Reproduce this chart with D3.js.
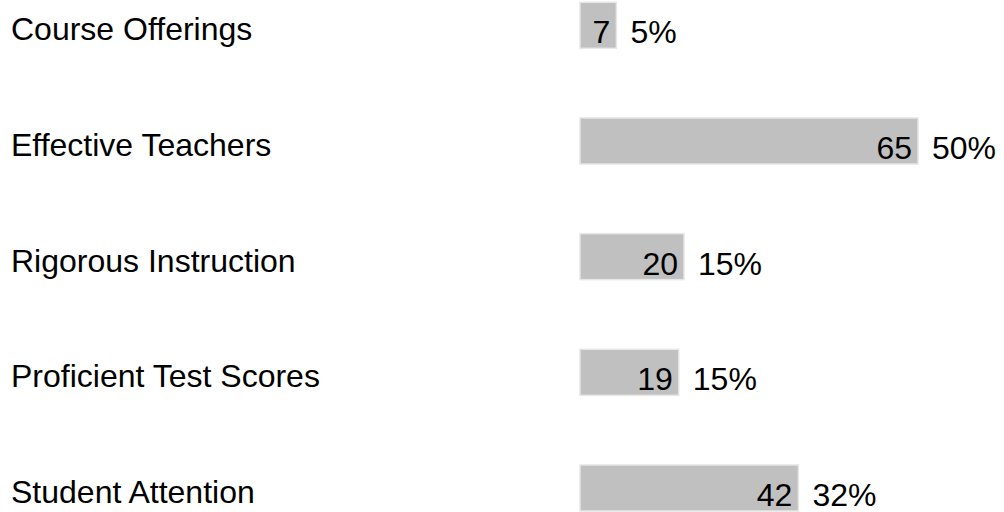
<!DOCTYPE html>
<html>
<head>
<meta charset="utf-8">
<script src="https://cdn.jsdelivr.net/npm/d3@7"></script>
<style>
  body { margin: 0; background: #fff; }
  svg text { font-family: "Liberation Sans", Arial, sans-serif; font-size: 32px; fill: #000; }
</style>
</head>
<body>
<svg id="chart" width="1004" height="512"></svg>
<script>
// data
const categories = ["Course Offerings", "Effective Teachers", "Rigorous Instruction", "Proficient Test Scores", "Student Attention"];
const counts = [7, 65, 20, 19, 42];
const percents = ["5%", "50%", "15%", "15%", "32%"];

const rows = categories.map((c, i) => ({name: c, count: counts[i], pct: percents[i]}));

const svg = d3.select("#chart");
const barLeft = 580;

// scales
const xScale = d3.scaleLinear()
    .domain([0, 65])
    .range([0, 338]);

const yScale = d3.scaleBand()
    .domain(categories)
    .range([2.3, 511])
    .paddingInner(0.602)
    .paddingOuter(0);

const g = svg.append("g");

// bars
g.selectAll("rect").data(rows)
    .enter().append("rect")
        .attr("x", barLeft)
        .attr("y", d => yScale(d.name))
        .attr("width", d => xScale(d.count))
        .attr("height", yScale.bandwidth())
        .attr("fill", "#c0c0c0")
        .attr("stroke", "#e6e6e6")
        .attr("stroke-width", 1.5);

// baseline sits near the bottom of each bar
const baseline = d => yScale(d.name) + 41;

// category labels (a touch higher than the numbers)
g.selectAll(".label").data(rows)
    .enter().append("text")
        .attr("class", "label")
        .attr("x", 11)
        .attr("y", d => baseline(d) - 3)
        .text(d => d.name);

// counts inside bars
g.selectAll(".count").data(rows)
    .enter().append("text")
        .attr("class", "count")
        .attr("x", d => barLeft + xScale(d.count) - 6)
        .attr("y", baseline)
        .attr("text-anchor", "end")
        .text(d => d.count);

// percents after bars
g.selectAll(".pct").data(rows)
    .enter().append("text")
        .attr("class", "pct")
        .attr("x", d => barLeft + xScale(d.count) + 14)
        .attr("y", baseline)
        .text(d => d.pct);
</script>
</body>
</html>
